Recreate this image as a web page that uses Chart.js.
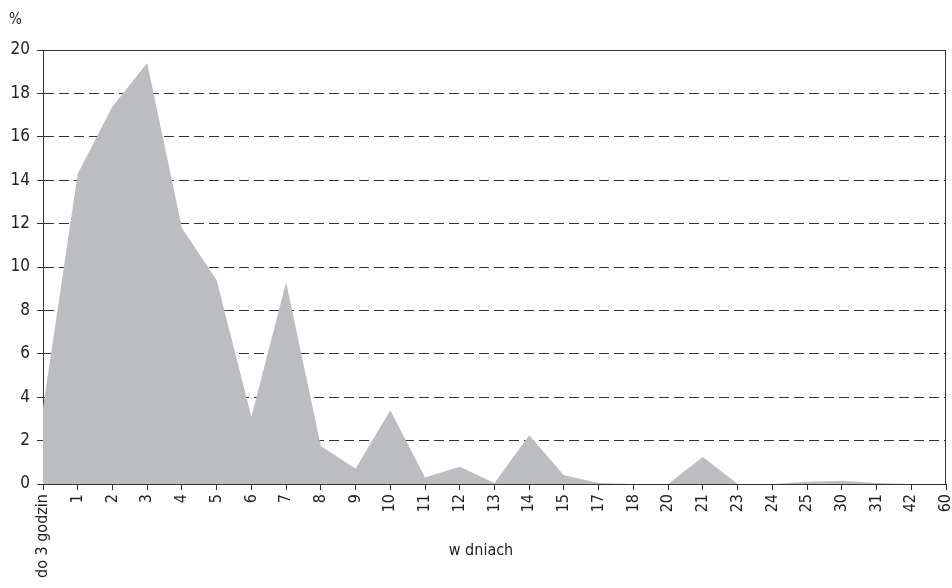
<!DOCTYPE html>
<html>
<head>
<meta charset="utf-8">
<script src="https://cdn.jsdelivr.net/npm/chart.js@4"></script>
<style>
  html, body { margin: 0; padding: 0; background: #fff; }
  #wrap { width: 952px; height: 588px; }
</style>
</head>
<body>
<div id="wrap"><canvas id="myAreaChart"></canvas></div>
<script>
const dni = ['do 3 godzin', '1', '2', '3', '4', '5', '6', '7', '8', '9', '10', '11', '12', '13',
    '14', '15', '17', '18', '20', '21', '23', '24', '25', '30', '31', '42', '60']
const procent = [3.5, 14.3, 17.4, 19.4, 11.8, 9.4, 3.1, 9.3, 1.75, 0.7, 3.4, 0.3, 0.8, 0.05,
    2.25, 0.4, 0.05, 0, 0, 1.25, 0, 0, 0.1, 0.15, 0.05, 0, 0]
const yTicks = [0, 2, 4, 6, 8, 10, 12, 14, 16, 18, 20]

const fonte = "'Liberation Sans Narrow', 'DejaVu Sans Condensed', Arial, sans-serif"
const cinza = '#333333'

// napisy "%" i "w dniach" oraz prawa krawedz ramki
const extras = {
    id: 'extras',
    afterDraw(chart) {
        const {ctx, chartArea} = chart
        ctx.save()
        ctx.strokeStyle = cinza
        ctx.lineWidth = 1
        ctx.beginPath()
        ctx.moveTo(chartArea.right - 0.5, chartArea.top)
        ctx.lineTo(chartArea.right - 0.5, chartArea.bottom)
        ctx.stroke()
        ctx.fillStyle = '#222'
        ctx.font = '15px ' + fonte
        ctx.textAlign = 'left'
        ctx.textBaseline = 'middle'
        ctx.fillText('%', 9, 20)
        ctx.textAlign = 'center'
        ctx.font = '16px ' + fonte
        ctx.fillText('w dniach', 481, 551)
        ctx.restore()
    }
}

const cfg = {
    type: 'line',
    data: {
        labels: dni,
        datasets: [{
            data: procent,
            fill: 'origin',
            backgroundColor: '#bcbdc0',
            borderWidth: 0,
            pointRadius: 0,
            tension: 0
        }]
    },
    options: {
        maintainAspectRatio: false,
        responsive: true,
        animation: false,
        layout: {
            padding: {top: 50, right: 6, left: 0, bottom: 0}
        },
        plugins: {
            legend: {display: false},
            tooltip: {enabled: false}
        },
        scales: {
            x: {
                offset: false,
                grid: {
                    drawOnChartArea: false,
                    drawTicks: true,
                    tickLength: 6,
                    color: cinza
                },
                border: {color: cinza, width: 1},
                ticks: {
                    autoSkip: false,
                    maxRotation: 90,
                    minRotation: 90,
                    padding: 4,
                    color: '#222',
                    font: {family: fonte, size: 16}
                },
                afterFit(scale) {
                    scale.height = 104
                    scale.paddingLeft = 0
                    scale.paddingRight = 0
                }
            },
            y: {
                min: 0,
                max: 20,
                afterBuildTicks(scale) { scale.ticks = yTicks.map(v => ({value: v})) },
                grid: {
                    color: cinza,
                    lineWidth: 1,
                    tickLength: 6
                },
                border: {
                    color: cinza,
                    width: 1,
                    dash: ctx => (ctx.tick && ctx.tick.value > 0 && ctx.tick.value < 20) ? [10, 5] : []
                },
                ticks: {
                    padding: 7,
                    color: '#222',
                    font: {family: fonte, size: 17}
                },
                afterFit(scale) {
                    scale.width = 43
                    scale.paddingTop = 0
                    scale.paddingBottom = 0
                }
            }
        }
    },
    plugins: [extras]
}

const ctx = document.getElementById('myAreaChart').getContext('2d')
// eslint-disable-next-line no-undef
const myAreaChart = new Chart(ctx, cfg)
</script>
</body>
</html>
